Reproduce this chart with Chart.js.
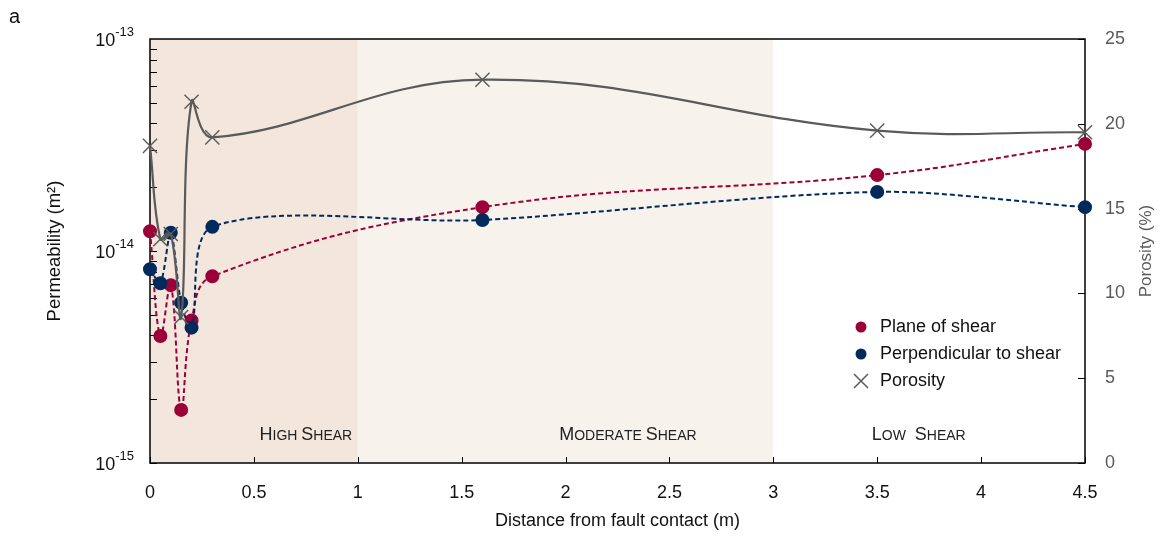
<!DOCTYPE html>
<html>
<head>
<meta charset="utf-8">
<script src="https://cdn.jsdelivr.net/npm/chart.js@4.4.1/dist/chart.umd.min.js"></script>
<style>
  html, body { margin: 0; padding: 0; background: #fff; }
  #wrap { width: 1166px; height: 541px; }
</style>
</head>
<body>
<div id="wrap"><canvas id="chart" width="1166" height="541"></canvas></div>
<script>
// distance from fault contact (m)
var distance = [0, 0.05, 0.1, 0.15, 0.2, 0.3, 1.6, 3.5, 4.5];
// permeability (m2)
var planeOfShear = [1.24e-14, 3.97e-15, 6.9e-15, 1.78e-15, 4.7e-15, 7.6e-15, 1.61e-14, 2.28e-14, 3.2e-14];
var perpToShear  = [8.2e-15, 7.05e-15, 1.22e-14, 5.7e-15, 4.35e-15, 1.3e-14, 1.4e-14, 1.9e-14, 1.61e-14];
// porosity (%)
var porosity = [18.7, 13.2, 13.5, 8.6, 21.3, 19.2, 22.6, 19.6, 19.5];

var xTicks = [0, 0.5, 1, 1.5, 2, 2.5, 3, 3.5, 4, 4.5];
var decadeExps = [-15, -14, -13];
var porosityTicks = [0, 5, 10, 15, 20, 25];

var zoneNames  = ['High Shear', 'Moderate Shear', 'Low  Shear'];
var zoneStarts = [0, 1, 3];
var zoneEnds   = [1, 3, 4.5];
var zoneLabelX = [0.75, 2.3, 3.7];

var FONT = '"Liberation Sans", Arial, sans-serif';
var RED = '#9b0038';
var BLUE = '#002a5c';
var GREY = '#5a5a5a';

function pts(ys) {
    return distance.map(function(x, i) { return {x: x, y: ys[i]}; });
}

// small caps like "HIGH SHEAR"
function drawSmallCaps(ctx, text, cx, cy) {
    var big = 18, small = 14;
    var parts = [];
    text.split('').forEach(function(ch, i) {
        var first = (i == 0 || text[i - 1] == ' ');
        parts.push({t: ch.toUpperCase(), s: (first ? big : small)});
    });
    var w = 0;
    parts.forEach(function(p) {
        ctx.font = p.s + 'px ' + FONT;
        p.w = ctx.measureText(p.t).width;
        w += p.w;
    });
    var x = cx - w / 2;
    ctx.textBaseline = 'alphabetic';
    ctx.textAlign = 'left';
    parts.forEach(function(p) {
        ctx.font = p.s + 'px ' + FONT;
        ctx.fillText(p.t, x, cy);
        x += p.w;
    });
}

var zonesPlugin = {
    id: 'zones',
    beforeDatasetsDraw: function(chart) {
        var ctx = chart.ctx, a = chart.chartArea;
        var sx = chart.scales.x, sy = chart.scales.y, sy2 = chart.scales.y2;
        var zoneColors = ['#f2e6dd', '#f7f2ec', '#ffffff'];
        ctx.save();
        zoneStarts.forEach(function(s, i) {
            var x0 = sx.getPixelForValue(s), x1 = sx.getPixelForValue(zoneEnds[i]);
            ctx.fillStyle = zoneColors[i];
            ctx.fillRect(x0, a.top, x1 - x0, a.bottom - a.top);
        });
        ctx.fillStyle = '#222';
        zoneNames.forEach(function(n, i) {
            drawSmallCaps(ctx, n, sx.getPixelForValue(zoneLabelX[i]), a.bottom - 23);
        });

        // frame
        ctx.strokeStyle = '#000';
        ctx.lineWidth = 1.5;
        ctx.strokeRect(a.left, a.top, a.right - a.left, a.bottom - a.top);

        // inward tick marks
        ctx.lineWidth = 1;
        ctx.beginPath();
        xTicks.forEach(function(v) {
            var px = Math.round(sx.getPixelForValue(v)) + 0.5;
            ctx.moveTo(px, a.bottom);
            ctx.lineTo(px, a.bottom - 6);
        });
        for (var e = -15; e < -13; e++) {
            for (var m = 1; m <= 9; m++) {
                var py = Math.round(sy.getPixelForValue(m * Math.pow(10, e))) + 0.5;
                ctx.moveTo(a.left, py);
                ctx.lineTo(a.left + 7, py);
            }
        }
        porosityTicks.forEach(function(v) {
            var py = Math.round(sy2.getPixelForValue(v)) + 0.5;
            ctx.moveTo(a.right, py);
            ctx.lineTo(a.right - 7, py);
        });
        ctx.stroke();

        // decade labels with superscript
        ctx.fillStyle = '#111';
        decadeExps.forEach(function(e) {
            var py = sy.getPixelForValue(Math.pow(10, e));
            ctx.font = '13px ' + FONT;
            var supW = ctx.measureText(String(e)).width;
            var right = a.left - 16;
            ctx.textAlign = 'left';
            ctx.textBaseline = 'alphabetic';
            ctx.fillText(String(e), right - supW, py - 3);
            ctx.font = '18px ' + FONT;
            ctx.textAlign = 'right';
            ctx.fillText('10', right - supW, py + 6.5);
        });

        // right axis title, reading upwards
        ctx.save();
        ctx.translate(1146, (a.top + a.bottom) / 2);
        ctx.rotate(-Math.PI / 2);
        ctx.font = '17px ' + FONT;
        ctx.fillStyle = GREY;
        ctx.textAlign = 'center';
        ctx.textBaseline = 'middle';
        ctx.fillText('Porosity (%)', 0, 0);
        ctx.restore();
        ctx.restore();
    },
    afterDraw: function(chart) {
        var ctx = chart.ctx;
        var lx = 861, ly = 327, gap = 27;
        ctx.save();
        ctx.font = '18px ' + FONT;
        ctx.textBaseline = 'middle';
        ctx.textAlign = 'left';
        chart.data.datasets.forEach(function(ds, i) {
            var y = ly + i * gap;
            if (ds.pointStyle == 'crossRot') {
                ctx.strokeStyle = ds.borderColor;
                ctx.lineWidth = 1.5;
                ctx.beginPath();
                ctx.moveTo(lx - 7, y - 7); ctx.lineTo(lx + 7, y + 7);
                ctx.moveTo(lx - 7, y + 7); ctx.lineTo(lx + 7, y - 7);
                ctx.stroke();
            } else {
                ctx.fillStyle = ds.pointBackgroundColor;
                ctx.beginPath();
                ctx.arc(lx, y, 5.5, 0, Math.PI * 2);
                ctx.fill();
            }
            ctx.fillStyle = '#111';
            ctx.fillText(ds.label, lx + 19, y);
        });
        // panel letter
        ctx.font = '20px ' + FONT;
        ctx.textBaseline = 'top';
        ctx.fillText('a', 9, 7);
        ctx.restore();
    }
};

var ctx = document.getElementById('chart').getContext('2d');
var chart = new Chart(ctx, {
    type: 'line',
    data: {
        datasets: [
            {
                label: 'Plane of shear',
                data: pts(planeOfShear),
                yAxisID: 'y',
                borderColor: RED,
                backgroundColor: RED,
                pointBackgroundColor: RED,
                pointBorderColor: RED,
                pointRadius: 6,
                borderWidth: 2,
                borderDash: [5, 3],
                tension: 0.4,
                clip: false,
                order: 2
            },
            {
                label: 'Perpendicular to shear',
                data: pts(perpToShear),
                yAxisID: 'y',
                borderColor: BLUE,
                backgroundColor: BLUE,
                pointBackgroundColor: BLUE,
                pointBorderColor: BLUE,
                pointRadius: 6,
                borderWidth: 2,
                borderDash: [5, 3],
                tension: 0.3,
                clip: false,
                order: 1
            },
            {
                label: 'Porosity',
                data: pts(porosity),
                yAxisID: 'y2',
                borderColor: GREY,
                backgroundColor: GREY,
                pointStyle: 'crossRot',
                pointRadius: 10,
                pointBorderWidth: 1.4,
                borderWidth: 2.2,
                tension: 0.4,
                clip: false,
                order: 0
            }
        ]
    },
    options: {
        responsive: false,
        animation: false,
        layout: { padding: { top: 39, left: 0, right: 0, bottom: 0 } },
        plugins: {
            legend: { display: false },
            tooltip: { enabled: false }
        },
        scales: {
            x: {
                type: 'linear',
                min: 0,
                max: 4.5,
                afterBuildTicks: function(s) { s.ticks = xTicks.map(function(v) { return {value: v}; }); },
                afterFit: function(s) { s.height = 78; },
                grid: { display: false, drawTicks: false },
                border: { display: false },
                ticks: {
                    color: '#111',
                    padding: 19,
                    font: { size: 18, family: FONT },
                    callback: function(v) { return String(v); }
                },
                title: {
                    display: true,
                    text: 'Distance from fault contact (m)',
                    color: '#111',
                    font: { size: 18, family: FONT },
                    padding: { top: 0, bottom: 9 }
                }
            },
            y: {
                type: 'logarithmic',
                position: 'left',
                min: 1e-15,
                max: 1e-13,
                afterFit: function(s) { s.width = 150; },
                grid: { display: false, drawTicks: false },
                border: { display: false },
                ticks: { display: false },
                title: {
                    display: true,
                    text: 'Permeability (m²)',
                    color: '#111',
                    font: { size: 18.5, family: FONT },
                    padding: { top: 44, bottom: 0 }
                }
            },
            y2: {
                type: 'linear',
                position: 'right',
                min: 0,
                max: 25,
                afterBuildTicks: function(s) { s.ticks = porosityTicks.map(function(v) { return {value: v}; }); },
                afterFit: function(s) { s.width = 81; },
                grid: { display: false, drawTicks: false },
                border: { display: false },
                ticks: { color: GREY, padding: 20, font: { size: 18, family: FONT } },
                title: { display: false }
            }
        }
    },
    plugins: [zonesPlugin]
});
</script>
</body>
</html>
